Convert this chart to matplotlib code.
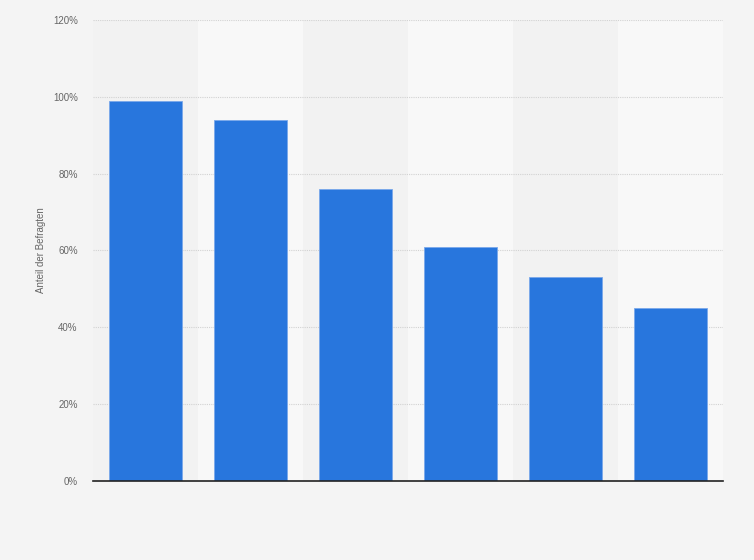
import matplotlib.pyplot as plt
from matplotlib.ticker import FuncFormatter

# Werte (Anteil der Befragten in %)
categories = ['A', 'B', 'C', 'D', 'E', 'F']
values = [99, 94, 76, 61, 53, 45]
y_ticks = [0, 20, 40, 60, 80, 100, 120]

plt.rcParams['font.family'] = ['Liberation Sans', 'DejaVu Sans']

fig = plt.figure(figsize=(7.54, 5.6), dpi=100)
fig.patch.set_facecolor('#f4f4f4')
ax = fig.add_axes([0.1233, 0.1411, 0.8356, 0.8232])
ax.set_facecolor('#f2f2f2')

x = list(range(len(categories)))

# abwechselnde Spaltenhintergründe
for i in x:
    if i % 2 == 1:
        ax.axvspan(i - 0.5, i + 0.5, color='#f8f8f8', zorder=0, lw=0)

ax.bar(x, values, width=0.69, color='#2876dd', edgecolor='#7aa8ea',
       linewidth=0.6, zorder=3)

ax.set_xlim(-0.5, len(categories) - 0.5)
ax.set_ylim(0, 120)
ax.set_yticks(y_ticks)
ax.yaxis.set_major_formatter(FuncFormatter(lambda v, p: f'{int(v)}%'))
ax.set_xticks([])

ax.grid(axis='y', color='#d2d2d2', linestyle=(0, (1, 1)), linewidth=0.8, zorder=1)
ax.tick_params(axis='y', length=0, pad=11, labelsize=7, labelcolor='#666666')

for s in ['top', 'right', 'left']:
    ax.spines[s].set_visible(False)
ax.spines['bottom'].set_color('#222222')
ax.spines['bottom'].set_linewidth(1.2)
ax.spines['bottom'].set_zorder(4)

ax.set_ylabel('Anteil der Befragten', fontsize=7, color='#666666')
ax.yaxis.set_label_coords(-0.075, 0.5)

fig.savefig('out.png', dpi=100, facecolor=fig.get_facecolor())
